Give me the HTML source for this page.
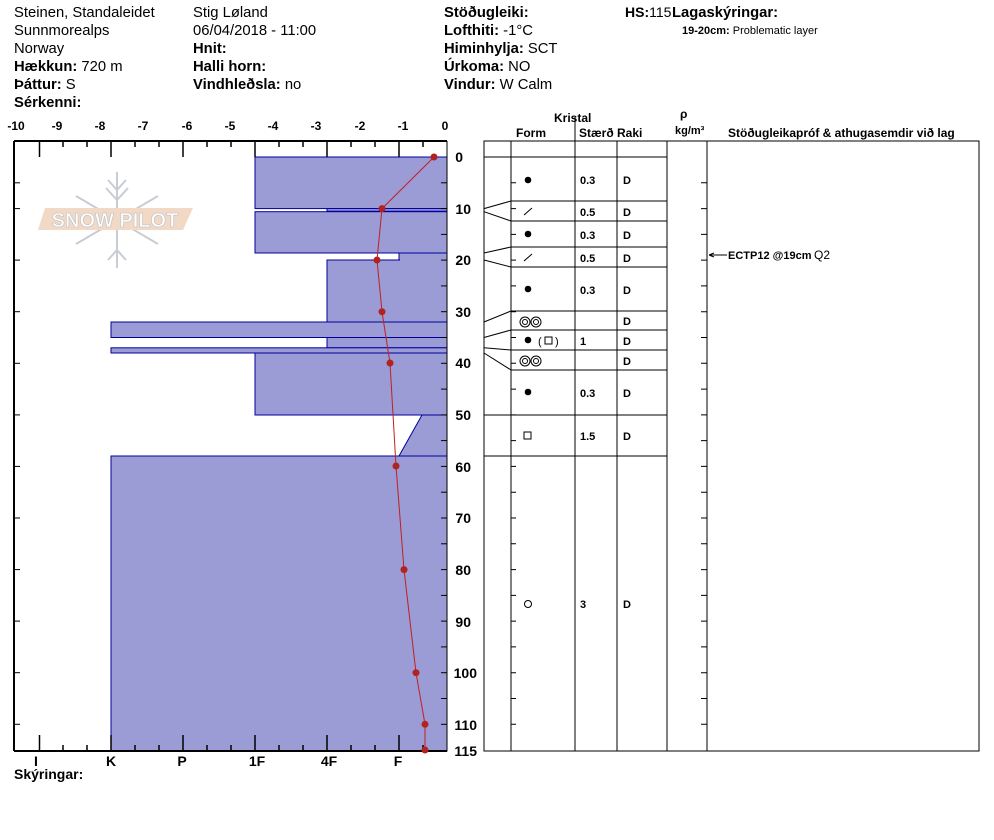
<!DOCTYPE html>
<html><head><meta charset="utf-8"><style>
body{margin:0;background:#fff}
svg{display:block;font-family:"Liberation Sans",Arial,sans-serif}
</style></head><body>
<svg width="994" height="840" viewBox="0 0 994 840" xmlns="http://www.w3.org/2000/svg">
<g font-size="14.8" fill="#000">
<text x="14" y="17">Steinen, Standaleidet</text>
<text x="14" y="35">Sunnmorealps</text>
<text x="14" y="53">Norway</text>
<text x="14" y="71"><tspan font-weight="bold">Hækkun:</tspan> 720 m</text>
<text x="14" y="89"><tspan font-weight="bold">Þáttur:</tspan> S</text>
<text x="14" y="107" font-weight="bold">Sérkenni:</text>
<text x="193" y="17">Stig Løland</text>
<text x="193" y="35">06/04/2018 - 11:00</text>
<text x="193" y="53" font-weight="bold">Hnit:</text>
<text x="193" y="71" font-weight="bold">Halli horn:</text>
<text x="193" y="89"><tspan font-weight="bold">Vindhleðsla:</tspan> no</text>
<text x="444" y="17" font-weight="bold">Stöðugleiki:</text>
<text x="444" y="35"><tspan font-weight="bold">Lofthiti:</tspan>  -1°C</text>
<text x="444" y="53"><tspan font-weight="bold">Himinhylja:</tspan> SCT</text>
<text x="444" y="71"><tspan font-weight="bold">Úrkoma:</tspan> NO</text>
<text x="444" y="89"><tspan font-weight="bold">Vindur:</tspan>  W Calm</text>
<text x="625" y="17" font-size="14"><tspan font-weight="bold">HS:</tspan>115</text>
<text x="672" y="17" font-weight="bold">Lagaskýringar:</text>
<text x="682" y="34" font-size="11"><tspan font-weight="bold">19-20cm:</tspan> Problematic layer</text>
</g>
<!-- logo -->
<g stroke="#c8ccd4" stroke-width="2" fill="none">
<line x1="117" y1="172" x2="117" y2="268"/>
<line x1="76" y1="196" x2="158" y2="244"/>
<line x1="76" y1="244" x2="158" y2="196"/>
<path d="M108 180 L117 190 L126 180 M106 188 L117 200 L128 188 M108 260 L117 250 L126 260"/>
</g>
<polygon points="45,208 193,208 183,230 38,230" fill="#f2d9c6"/>
<text x="115" y="227" font-size="20" text-anchor="middle" fill="#fff" stroke="#c8c8c8" stroke-width="0.8" font-weight="bold">SNOW PILOT</text>
<!-- hardness bars -->
<g fill="#9b9bd5" stroke="#00009c" stroke-width="1">
<rect x="255" y="157" width="192" height="51.6"/>
<rect x="327" y="208.6" width="120" height="2.6"/>
<rect x="255" y="211.7" width="192" height="41.3"/>
<rect x="399" y="253" width="48" height="7"/>
<rect x="327" y="260" width="120" height="62"/>
<rect x="111" y="322" width="336" height="15.5"/>
<rect x="327" y="337.5" width="120" height="10.3"/>
<rect x="111" y="347.8" width="336" height="5.2"/>
<rect x="255" y="353" width="192" height="62"/>
<polygon points="422,415 447,415 447,456 399,456"/>
<rect x="111" y="456" width="336" height="295"/>
</g>
<g fill="#9b9bd5"><rect x="400" y="258" width="46" height="3"/></g>
<!-- axes -->
<g stroke="#000" stroke-width="2" fill="none">
<line x1="14" y1="141" x2="447" y2="141"/>
<line x1="14" y1="751" x2="447" y2="751"/>
<line x1="14" y1="141" x2="14" y2="751"/>
</g>
<g stroke="#000" stroke-width="1.5">
<line x1="39.5" y1="141" x2="39.5" y2="157"/><line x1="111" y1="141" x2="111" y2="157"/><line x1="183" y1="141" x2="183" y2="157"/><line x1="255" y1="141" x2="255" y2="157"/><line x1="327" y1="141" x2="327" y2="157"/><line x1="399" y1="141" x2="399" y2="157"/>
<line x1="63" y1="141" x2="63" y2="147"/><line x1="87" y1="141" x2="87" y2="147"/><line x1="135" y1="141" x2="135" y2="147"/><line x1="159" y1="141" x2="159" y2="147"/><line x1="207" y1="141" x2="207" y2="147"/><line x1="231" y1="141" x2="231" y2="147"/><line x1="279" y1="141" x2="279" y2="147"/><line x1="303" y1="141" x2="303" y2="147"/><line x1="351" y1="141" x2="351" y2="147"/><line x1="375" y1="141" x2="375" y2="147"/><line x1="423" y1="141" x2="423" y2="147"/>
<line x1="39.5" y1="735" x2="39.5" y2="751"/><line x1="111" y1="735" x2="111" y2="751"/><line x1="183" y1="735" x2="183" y2="751"/><line x1="255" y1="735" x2="255" y2="751"/><line x1="327" y1="735" x2="327" y2="751"/><line x1="399" y1="735" x2="399" y2="751"/>
<line x1="63" y1="745" x2="63" y2="751"/><line x1="87" y1="745" x2="87" y2="751"/><line x1="135" y1="745" x2="135" y2="751"/><line x1="159" y1="745" x2="159" y2="751"/><line x1="207" y1="745" x2="207" y2="751"/><line x1="231" y1="745" x2="231" y2="751"/><line x1="279" y1="745" x2="279" y2="751"/><line x1="303" y1="745" x2="303" y2="751"/><line x1="351" y1="745" x2="351" y2="751"/><line x1="375" y1="745" x2="375" y2="751"/><line x1="423" y1="745" x2="423" y2="751"/>
</g>
<g font-size="12" font-weight="bold" text-anchor="middle">
<text x="16" y="130">-10</text><text x="57" y="130">-9</text><text x="100" y="130">-8</text><text x="143" y="130">-7</text><text x="187" y="130">-6</text><text x="230" y="130">-5</text><text x="273" y="130">-4</text><text x="316" y="130">-3</text><text x="360" y="130">-2</text><text x="403" y="130">-1</text><text x="445" y="130">0</text>
</g>
<g font-size="14" font-weight="bold" text-anchor="middle">
<text x="36" y="766">I</text><text x="111" y="766">K</text><text x="182" y="766">P</text><text x="257" y="766">1F</text><text x="329" y="766">4F</text><text x="398" y="766">F</text>
</g>
<text x="14" y="779" font-size="14" font-weight="bold">Skýringar:</text>
<g font-size="14" font-weight="bold" text-anchor="end">
<text x="463" y="162">0</text><text x="471" y="214">10</text><text x="471" y="265">20</text><text x="471" y="317">30</text><text x="471" y="368">40</text><text x="471" y="420">50</text><text x="471" y="472">60</text><text x="471" y="523">70</text><text x="471" y="575">80</text><text x="471" y="627">90</text><text x="477" y="678">100</text><text x="477" y="730">110</text><text x="477" y="756">115</text>
</g>
<g stroke="#000" stroke-width="1">
<line x1="441" y1="182.8" x2="447" y2="182.8"/><line x1="441" y1="208.6" x2="447" y2="208.6"/><line x1="441" y1="234.4" x2="447" y2="234.4"/><line x1="441" y1="260.1" x2="447" y2="260.1"/><line x1="441" y1="285.9" x2="447" y2="285.9"/><line x1="441" y1="311.7" x2="447" y2="311.7"/><line x1="441" y1="337.5" x2="447" y2="337.5"/><line x1="441" y1="363.3" x2="447" y2="363.3"/><line x1="441" y1="389.1" x2="447" y2="389.1"/><line x1="441" y1="414.9" x2="447" y2="414.9"/><line x1="441" y1="440.6" x2="447" y2="440.6"/><line x1="441" y1="466.4" x2="447" y2="466.4"/><line x1="441" y1="492.2" x2="447" y2="492.2"/><line x1="441" y1="518" x2="447" y2="518"/><line x1="441" y1="543.8" x2="447" y2="543.8"/><line x1="441" y1="569.6" x2="447" y2="569.6"/><line x1="441" y1="595.4" x2="447" y2="595.4"/><line x1="441" y1="621.1" x2="447" y2="621.1"/><line x1="441" y1="646.9" x2="447" y2="646.9"/><line x1="441" y1="672.7" x2="447" y2="672.7"/><line x1="441" y1="698.5" x2="447" y2="698.5"/><line x1="441" y1="724.3" x2="447" y2="724.3"/>
<line x1="14" y1="182.8" x2="20" y2="182.8"/><line x1="14" y1="208.6" x2="20" y2="208.6"/><line x1="14" y1="260.1" x2="20" y2="260.1"/><line x1="14" y1="311.7" x2="20" y2="311.7"/><line x1="14" y1="363.3" x2="20" y2="363.3"/><line x1="14" y1="414.9" x2="20" y2="414.9"/><line x1="14" y1="466.4" x2="20" y2="466.4"/><line x1="14" y1="518" x2="20" y2="518"/><line x1="14" y1="569.6" x2="20" y2="569.6"/><line x1="14" y1="621.1" x2="20" y2="621.1"/><line x1="14" y1="672.7" x2="20" y2="672.7"/><line x1="14" y1="724.3" x2="20" y2="724.3"/>
</g>
<line x1="447" y1="141" x2="447" y2="751" stroke="#000" stroke-width="1"/>
<!-- temperature -->
<polyline points="434,157 382,208.6 377,260 382,311.7 390,363 396,466 404,569.6 416,672.7 425,724.3 425,750" fill="none" stroke="#c02020" stroke-width="1"/>
<g fill="#b22222">
<circle cx="434" cy="157" r="3.5"/><circle cx="382" cy="208.6" r="3.5"/><circle cx="377" cy="260" r="3.5"/><circle cx="382" cy="311.7" r="3.5"/><circle cx="390" cy="363" r="3.5"/><circle cx="396" cy="466" r="3.5"/><circle cx="404" cy="569.6" r="3.5"/><circle cx="416" cy="672.7" r="3.5"/><circle cx="425" cy="724.3" r="3.5"/><circle cx="425" cy="750" r="3.5"/>
</g>
<!-- right table -->
<g stroke="#000" stroke-width="1" fill="none">
<rect x="484" y="141" width="495" height="610"/>
<line x1="511" y1="141" x2="511" y2="751"/><line x1="575" y1="141" x2="575" y2="751"/><line x1="617" y1="141" x2="617" y2="751"/><line x1="667" y1="141" x2="667" y2="751"/><line x1="707" y1="141" x2="707" y2="751"/>
<line x1="484" y1="157" x2="667" y2="157"/>
<line x1="511" y1="201" x2="667" y2="201"/><line x1="511" y1="221" x2="667" y2="221"/><line x1="511" y1="247" x2="667" y2="247"/><line x1="511" y1="267" x2="667" y2="267"/><line x1="511" y1="311" x2="667" y2="311"/><line x1="511" y1="330" x2="667" y2="330"/><line x1="511" y1="350" x2="667" y2="350"/><line x1="511" y1="370" x2="667" y2="370"/><line x1="484" y1="415" x2="667" y2="415"/><line x1="484" y1="456" x2="667" y2="456"/>
<path d="M484 208.6 L511 201 M484 211.7 L511 221 M484 253 L511 247 M484 260 L511 267 M484 322 L511 311 M484 337.5 L511 330 M484 347.8 L511 350 M484 353 L511 370"/>
<line x1="575" y1="117" x2="575" y2="141"/>
<path d="M701 182.8h6M701 208.6h6M701 234.4h6M701 260.1h6M701 285.9h6M701 311.7h6M701 337.5h6M701 363.3h6M701 389.1h6M701 414.9h6M701 440.6h6M701 466.4h6M701 492.2h6M701 518h6M701 543.8h6M701 569.6h6M701 595.4h6M701 621.1h6M701 646.9h6M701 672.7h6M701 698.5h6M701 724.3h6"/>
<path d="M511 182.8h5M511 208.6h5M511 234.4h5M511 260.1h5M511 285.9h5M511 311.7h5M511 337.5h5M511 363.3h5M511 389.1h5M511 414.9h5M511 440.6h5M511 466.4h5M511 492.2h5M511 518h5M511 543.8h5M511 569.6h5M511 595.4h5M511 621.1h5M511 646.9h5M511 672.7h5M511 698.5h5M511 724.3h5"/>
</g>
<g font-size="12" font-weight="bold">
<text x="554" y="122">Kristal</text>
<text x="516" y="137">Form</text>
<text x="579" y="137">Stærð</text>
<text x="617" y="137">Raki</text>
<text x="680" y="118">ρ</text>
<text x="675" y="134" font-size="11">kg/m³</text>
<text x="728" y="137">Stöðugleikapróf &amp; athugasemdir við lag</text>
</g>
<g font-size="11" font-weight="bold">
<text x="580" y="184">0.3</text><text x="623" y="184">D</text>
<text x="580" y="216">0.5</text><text x="623" y="216">D</text>
<text x="580" y="239">0.3</text><text x="623" y="239">D</text>
<text x="580" y="262">0.5</text><text x="623" y="262">D</text>
<text x="580" y="294">0.3</text><text x="623" y="294">D</text>
<text x="623" y="325">D</text>
<text x="580" y="345">1</text><text x="623" y="345">D</text>
<text x="623" y="365">D</text>
<text x="580" y="397">0.3</text><text x="623" y="397">D</text>
<text x="580" y="440">1.5</text><text x="623" y="440">D</text>
<text x="580" y="608">3</text><text x="623" y="608">D</text>
</g>
<g fill="#000">
<circle cx="528" cy="180" r="3.3"/><circle cx="528" cy="234" r="3.3"/><circle cx="528" cy="289" r="3.3"/><circle cx="528" cy="340" r="3.3"/><circle cx="528" cy="392" r="3.3"/>
</g>
<g stroke="#000" fill="none" stroke-width="1">
<line x1="524" y1="215" x2="532" y2="208"/><line x1="524" y1="261" x2="532" y2="254"/>
<circle cx="525" cy="322" r="5"/><circle cx="536" cy="322" r="5"/><circle cx="525" cy="322" r="2.5"/><circle cx="536" cy="322" r="2.5"/>
<circle cx="525" cy="361" r="5"/><circle cx="536" cy="361" r="5"/><circle cx="525" cy="361" r="2.5"/><circle cx="536" cy="361" r="2.5"/>
<rect x="545" y="337" width="7" height="7"/>
<rect x="524" y="432" width="7" height="7"/>
<circle cx="528" cy="604" r="3.5"/>
<path d="M709 255 H727 M709 255 l5 -2 M709 255 l5 2"/>
</g>
<text x="538" y="345" font-size="11">(</text><text x="555" y="345" font-size="11">)</text>
<text x="728" y="259" font-size="11" font-weight="bold">ECTP12 @19cm</text>
<text x="814" y="259" font-size="12">Q2</text>
</svg>
</body></html>
